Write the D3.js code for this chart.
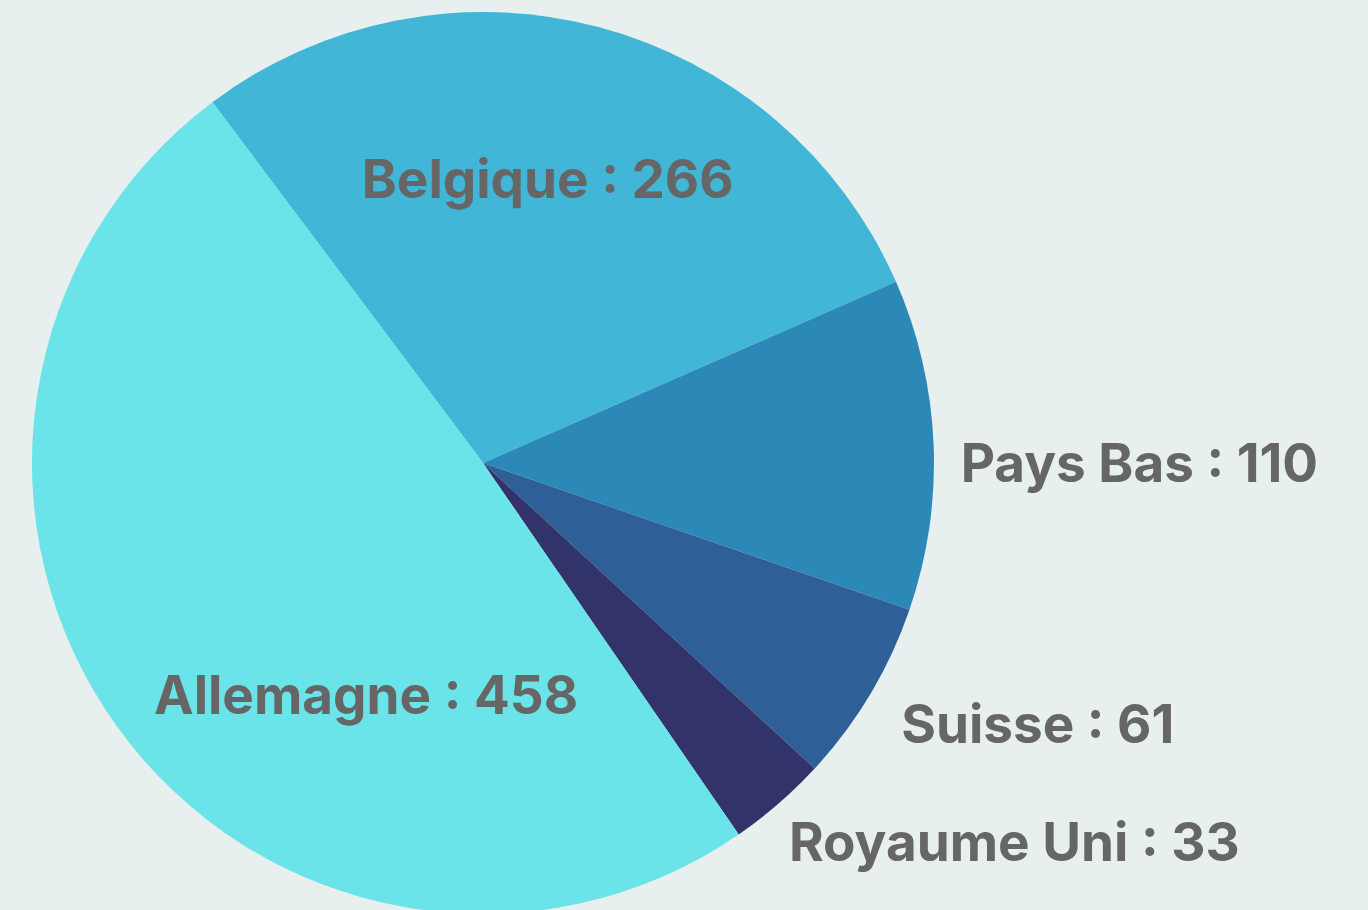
<!DOCTYPE html>
<html>
<head>
<meta charset="utf-8">
<script src="https://cdn.jsdelivr.net/npm/d3@7"></script>
<style>
  html, body { margin: 0; padding: 0; background: #E7F0EE; overflow: hidden; }
  svg { display: block; }
</style>
</head>
<body>
<svg id="chart" width="1368" height="910"></svg>
<script>
const categories = ["Belgique", "Pays Bas", "Suisse", "Royaume Uni", "Allemagne"];
const values = [266, 110, 61, 33, 458];
const colors = ["#42B6D6", "#2C89B7", "#2E5F97", "#31336A", "#6AE4E8"];

// label placement: inside labels (centered) vs outside labels (start-anchored)
const labelLayout = {
  "Belgique":    { inside: true,  angleShift: -1.9, rf: 0.646, dy: 0 },
  "Pays Bas":    { inside: false, rf: 1.06, dy: 0 },
  "Suisse":      { inside: false, rf: 1.08, dy: -8 },
  "Royaume Uni": { inside: false, rf: 1.035, dy: 7 },
  "Allemagne":   { inside: true,  angleShift: -27.5, rf: 0.575, dy: 0 }
};

const W = 1368, H = 910;
const cx = 483, cy = 463, R = 451;
const fontSize = 53;
const capH = fontSize * 0.727;

const svg = d3.select("#chart");
const g = svg.append("g").attr("transform", `translate(${cx},${cy})`);

const data = categories.map((c, i) => ({ name: c, value: values[i], color: colors[i] }));

const start = -36.87 * Math.PI / 180;
const pie = d3.pie().value(d => d.value).sort(null)
  .startAngle(start).endAngle(start + 2 * Math.PI);
const arcs = pie(data);
const arc = d3.arc().innerRadius(0).outerRadius(R);

g.selectAll("path.slice").data(arcs).join("path")
  .attr("class", "slice")
  .attr("d", arc)
  .attr("fill", d => d.data.color);

g.selectAll("text.lbl").data(arcs).join("text")
  .attr("class", "lbl")
  .attr("font-family", "Inter, 'Noto Sans', sans-serif")
  .attr("font-weight", 700)
  .attr("font-size", fontSize)
  .attr("fill", "#666666")
  .text(d => `${d.data.name} : ${d.data.value}`)
  .each(function(d) {
    const L = labelLayout[d.data.name];
    let a = (d.startAngle + d.endAngle) / 2;
    const r = R * L.rf;
    if (L.inside) {
      a += L.angleShift * Math.PI / 180;
      const x = r * Math.sin(a), y = -r * Math.cos(a);
      d3.select(this).attr("text-anchor", "middle")
        .attr("x", x).attr("y", y + capH / 2 + L.dy);
    } else {
      const x = r * Math.sin(a), y = -r * Math.cos(a);
      d3.select(this).attr("text-anchor", "start")
        .attr("x", x).attr("y", y + capH + L.dy);
    }
  });
</script>
</body>
</html>
